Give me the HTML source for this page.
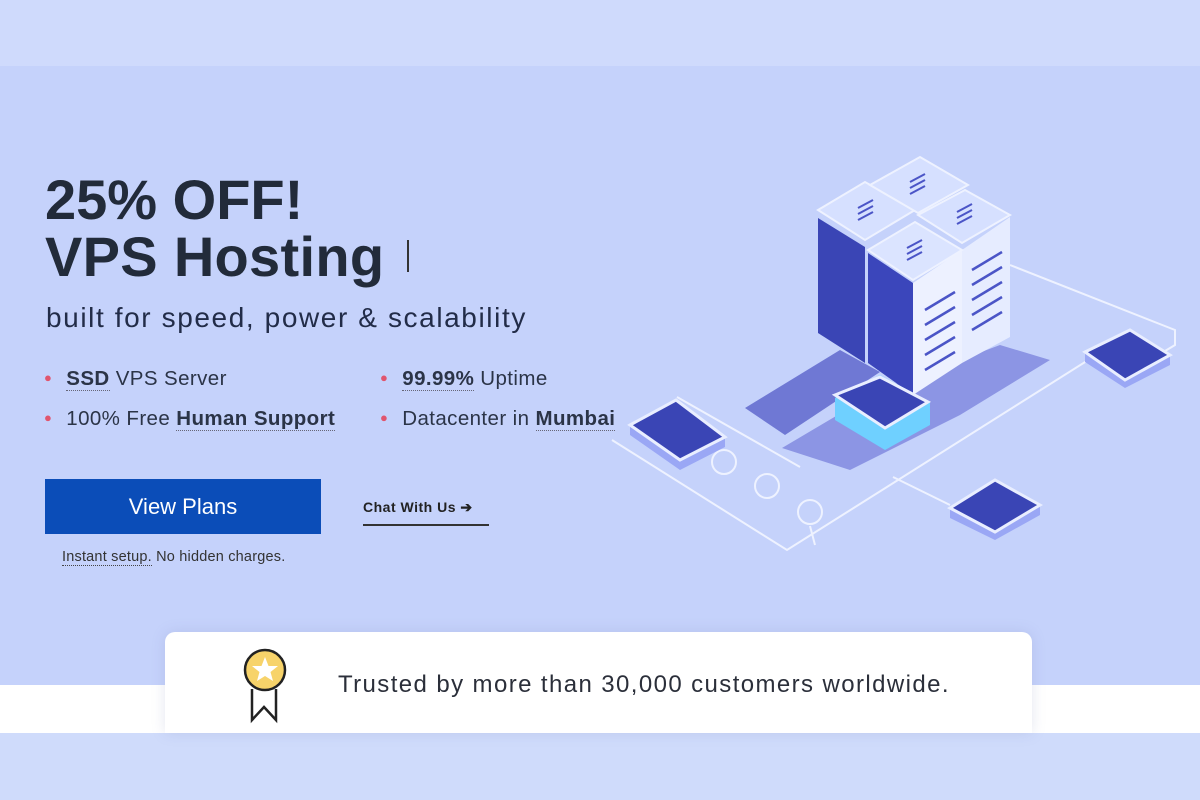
<!DOCTYPE html>
<html><head><meta charset="utf-8"><style>
*{margin:0;padding:0;box-sizing:border-box}
body{width:1200px;height:800px;position:relative;overflow:hidden;background:#c5d2fb;font-family:"Liberation Sans",sans-serif;color:#222b3a}
.abs{position:absolute;white-space:nowrap}
.top{left:0;top:0;width:1200px;height:66px;background:#cfdafc}
.wband{left:0;top:685px;width:1200px;height:48px;background:#fff}
.bot{left:0;top:733px;width:1200px;height:67px;background:#cfdbfb}
.card{left:165px;top:632px;width:867px;height:101px;background:#fff;border-radius:10px 10px 0 0;box-shadow:0 0 14px rgba(120,130,180,.2)}
h1{font-weight:bold;line-height:1}
.li{font-size:20.5px;color:#2b3447;letter-spacing:0.4px}
.li b{border-bottom:1px dotted #667}
.dot{color:#e0556e;font-size:13px;margin-right:14px;vertical-align:3px}
</style></head><body>
<div class="abs top"></div>
<div class="abs wband"></div>
<div class="abs bot"></div>

<h1 class="abs" style="left:45px;top:172px;font-size:56px">25% OFF!</h1>
<h1 class="abs" style="left:45px;top:229px;font-size:56px;letter-spacing:0.3px">VPS Hosting</h1>
<div class="abs" style="left:407px;top:240px;width:2px;height:32px;background:#333"></div>
<div class="abs" style="left:46px;top:302px;font-size:28px;letter-spacing:1.6px;color:#222c48">built for speed, power &amp; scalability</div>

<div class="abs li" style="left:44px;top:367px"><span class="dot">●</span><b>SSD</b> VPS Server</div>
<div class="abs li" style="left:380px;top:367px"><span class="dot">●</span><b>99.99%</b> Uptime</div>
<div class="abs li" style="left:44px;top:407px"><span class="dot">●</span>100% Free <b>Human Support</b></div>
<div class="abs li" style="left:380px;top:407px"><span class="dot">●</span>Datacenter in <b>Mumbai</b></div>

<div class="abs" style="left:45px;top:479px;width:276px;height:55px;background:#0b4db8;color:#fff;font-size:22px;text-align:center;line-height:55px">View Plans</div>
<div class="abs" style="left:363px;top:499px;font-size:14px;font-weight:bold;color:#222;padding-bottom:8px;border-bottom:2px solid #333;width:126px;letter-spacing:0.5px">Chat With Us ➔</div>
<div class="abs" style="left:62px;top:549px;font-size:14.5px;color:#333;letter-spacing:0.2px">
<span style="border-bottom:1px dotted #444">Instant setup.</span> No hidden charges.</div>

<div class="abs card"></div>
<svg class="abs" style="left:240px;top:645px" width="60" height="80" viewBox="0 0 60 80">
<polyline points="12,44 12,75 24,62 36,75 36,44" fill="none" stroke="#222" stroke-width="2.5"/>
<circle cx="25" cy="25" r="20" fill="#f7d36a" stroke="#222" stroke-width="2.5"/>
<polygon points="25,12 28.5,21 38,21 30.5,27 33,36 25,31 17,36 19.5,27 12,21 21.5,21" fill="#fff"/>
</svg>
<div class="abs" style="left:338px;top:671px;font-size:24px;letter-spacing:1.4px;color:#2b2f3a">Trusted by more than 30,000 customers worldwide.</div>

<svg class="abs" style="left:0;top:0" width="1200" height="800" viewBox="0 0 1200 800">
<g fill="none" stroke="#eef2ff" stroke-width="2">
<polyline points="612,440 787,550 1120,340"/>
<polyline points="677,397 800,467"/>
<polyline points="1010,265 1175,330 1175,345 1150,360"/>
<polyline points="893,477 950,505"/>
<polyline points="810,526 815,545"/>
<circle cx="724" cy="462" r="12"/><circle cx="767" cy="486" r="12"/><circle cx="810" cy="512" r="12"/>
</g>
<polygon points="745,408 840,350 880,372 785,435" fill="#6f78d4"/>
<polygon points="782,448 880,390 1000,345 1050,360 960,415 850,470" fill="#8c95e4"/>
<polygon points="818,218 865,247 865,363 818,333" fill="#3a45b5"/>
<polygon points="962,250 1010,217 1010,337 962,363" fill="#e6ecff"/>
<polygon points="868,253 913,283 913,395 868,363" fill="#3b46bb"/>
<polygon points="913,283 962,250 962,363 913,395" fill="#edf1ff"/>
<polygon points="818,210 865,182 915,210 865,240" fill="#d6e0ff" stroke="#eef2ff" stroke-width="2"/>
<polygon points="870,185 920,157 968,185 918,213" fill="#d6e0ff" stroke="#eef2ff" stroke-width="2"/>
<polygon points="918,215 965,190 1010,215 962,243" fill="#d6e0ff" stroke="#eef2ff" stroke-width="2"/>
<polygon points="868,250 915,222 962,250 913,280" fill="#dbe4ff" stroke="#eef2ff" stroke-width="2"/>
<g stroke="#4b55c7" stroke-width="2">
<line x1="910" y1="182" x2="925" y2="174"/><line x1="910" y1="188" x2="925" y2="180"/><line x1="910" y1="194" x2="925" y2="186"/>
<line x1="858" y1="208" x2="873" y2="200"/><line x1="858" y1="214" x2="873" y2="206"/><line x1="858" y1="220" x2="873" y2="212"/>
<line x1="957" y1="212" x2="972" y2="204"/><line x1="957" y1="218" x2="972" y2="210"/><line x1="957" y1="224" x2="972" y2="216"/>
<line x1="907" y1="248" x2="922" y2="240"/><line x1="907" y1="254" x2="922" y2="246"/><line x1="907" y1="260" x2="922" y2="252"/>
</g>
<g stroke="#4b55c7" stroke-width="2.5">
<line x1="925" y1="310" x2="955" y2="292"/><line x1="925" y1="325" x2="955" y2="307"/><line x1="925" y1="340" x2="955" y2="322"/><line x1="925" y1="355" x2="955" y2="337"/><line x1="925" y1="370" x2="955" y2="352"/>
<line x1="972" y1="270" x2="1002" y2="252"/><line x1="972" y1="285" x2="1002" y2="267"/><line x1="972" y1="300" x2="1002" y2="282"/><line x1="972" y1="315" x2="1002" y2="297"/><line x1="972" y1="330" x2="1002" y2="312"/>
</g>
<g>
<polygon points="630,425 680,460 725,437 725,447 680,470 630,435" fill="#9aa7f5"/>
<polygon points="630,425 676,400 725,437 680,460" fill="#3a45b5" stroke="#e9eeff" stroke-width="3"/>
<polygon points="835,398 880,375 930,402 930,425 885,450 835,420" fill="#6fd0ff"/>
<polygon points="835,395 880,377 928,402 885,428" fill="#3a45b5" stroke="#e9eeff" stroke-width="3"/>
<polygon points="1085,352 1130,330 1170,355 1170,365 1125,388 1085,362" fill="#9aa7f5"/>
<polygon points="1085,352 1130,330 1170,355 1125,380" fill="#3a45b5" stroke="#e9eeff" stroke-width="3"/>
<polygon points="950,508 995,480 1040,505 1040,515 995,540 950,518" fill="#9aa7f5"/>
<polygon points="950,508 995,480 1040,505 995,532" fill="#3a45b5" stroke="#e9eeff" stroke-width="3"/>
</g>
</svg>
</body></html>
